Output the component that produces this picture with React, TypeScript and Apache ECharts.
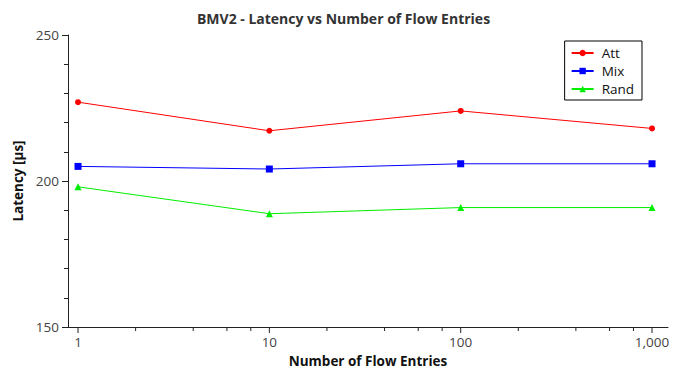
import React, { useEffect, useRef } from "react";
import * as echarts from "echarts";

const flowEntries = [1, 10, 100, 1000];
const attLatency = [227, 217.2, 224, 218];
const mixLatency = [205, 204.1, 205.9, 205.9];
const randLatency = [198, 188.8, 190.9, 190.9];
const majorTickValues = [1, 10, 100, 1000];
const minorTickValues = [2, 4, 6, 8, 20, 40, 60, 80, 200, 400, 600, 800];
const yMin = 150;
const yMax = 250;
const xMin = 0.8864;
const xMax = 1212;

const FONT = "'Open Sans', 'DejaVu Sans', sans-serif";

export default function App() {
  const ref = useRef<HTMLDivElement>(null);
  useEffect(() => {
    if (!ref.current) return;
    const chart = echarts.init(ref.current, undefined, { renderer: "svg" });
    const pair = (vals: number[]) => flowEntries.map((x, i) => [x, vals[i]]);
    const tickData = [
      ...majorTickValues.map((v) => [v, yMin, 6]),
      ...minorTickValues.map((v) => [v, yMin, 4]),
    ];
    chart.setOption({
      animation: false,
      backgroundColor: "#fff",
      title: {
        text: "BMV2 - Latency vs Number of Flow Entries",
        left: "center",
        top: 6,
        textStyle: { fontFamily: FONT, fontSize: 14, fontWeight: "bold", color: "#333" },
      },
      legend: {
        data: ["Att", "Mix", "Rand"],
        orient: "vertical",
        right: 45,
        top: 41,
        borderColor: "#000",
        borderWidth: 1,
        borderRadius: 0,
        backgroundColor: "#fff",
        padding: [5, 8, 4, 6],
        itemGap: 4,
        itemWidth: 22,
        itemHeight: 8,
        textStyle: {
          fontFamily: FONT,
          fontSize: 13.5,
          lineHeight: 14,
          color: "#111",
          padding: [0, 0, 0, 3],
        },
      },
      grid: {
        left: 68,
        right: 19,
        top: 35,
        bottom: 42,
        containLabel: false,
        outerBoundsMode: "none",
      },
      xAxis: {
        type: "log",
        logBase: 10,
        min: xMin,
        max: xMax,
        name: "Number of Flow Entries",
        nameLocation: "middle",
        nameGap: 24,
        nameTextStyle: { fontFamily: FONT, fontSize: 13.5, fontWeight: "bold", color: "#111" },
        axisLine: { show: true, lineStyle: { color: "#222", width: 1 } },
        axisTick: { show: false },
        splitLine: { show: false },
        axisLabel: {
          interval: 0,
          margin: 8,
          fontFamily: FONT,
          fontSize: 13.5,
          color: "#444",
          formatter: (v: number) =>
            majorTickValues.includes(v) ? v.toLocaleString("en-US") : "",
        },
      },
      yAxis: {
        type: "value",
        min: yMin,
        max: yMax,
        interval: 50,
        name: "Latency [µs]",
        nameLocation: "middle",
        nameGap: 37,
        nameTextStyle: { fontFamily: FONT, fontSize: 13.5, fontWeight: "bold", color: "#111" },
        axisLine: { show: true, lineStyle: { color: "#222", width: 1 } },
        axisTick: { show: true, length: 6, lineStyle: { color: "#222" } },
        minorTick: { show: true, splitNumber: 5, length: 4, lineStyle: { color: "#222" } },
        splitLine: { show: false },
        axisLabel: { margin: 9, fontFamily: FONT, fontSize: 13.5, color: "#444" },
      },
      series: [
        {
          name: "Att",
          type: "line",
          data: pair(attLatency),
          symbol: "circle",
          symbolSize: 6,
          itemStyle: { color: "#ff0000" },
          lineStyle: { color: "#ff0000", width: 1 },
        },
        {
          name: "Mix",
          type: "line",
          data: pair(mixLatency),
          symbol: "rect",
          symbolSize: 7,
          itemStyle: { color: "#0000ff" },
          lineStyle: { color: "#0000ff", width: 1 },
        },
        {
          name: "Rand",
          type: "line",
          data: pair(randLatency),
          symbol: "triangle",
          symbolSize: 7,
          itemStyle: { color: "#00ee00" },
          lineStyle: { color: "#00ee00", width: 1 },
        },
        {
          name: "ticks",
          type: "custom",
          clip: false,
          silent: true,
          data: tickData,
          renderItem: (params: any, api: any) => {
            const p = api.coord([api.value(0), api.value(1)]);
            const len = api.value(2);
            return {
              type: "line",
              shape: { x1: p[0], y1: p[1], x2: p[0], y2: p[1] + len },
              style: { stroke: "#222", lineWidth: 1 },
            };
          },
        },
      ],
    });
    return () => chart.dispose();
  }, []);
  return <div ref={ref} style={{ width: 687, height: 369, position: "absolute", left: 0, top: 0 }} />;
}
